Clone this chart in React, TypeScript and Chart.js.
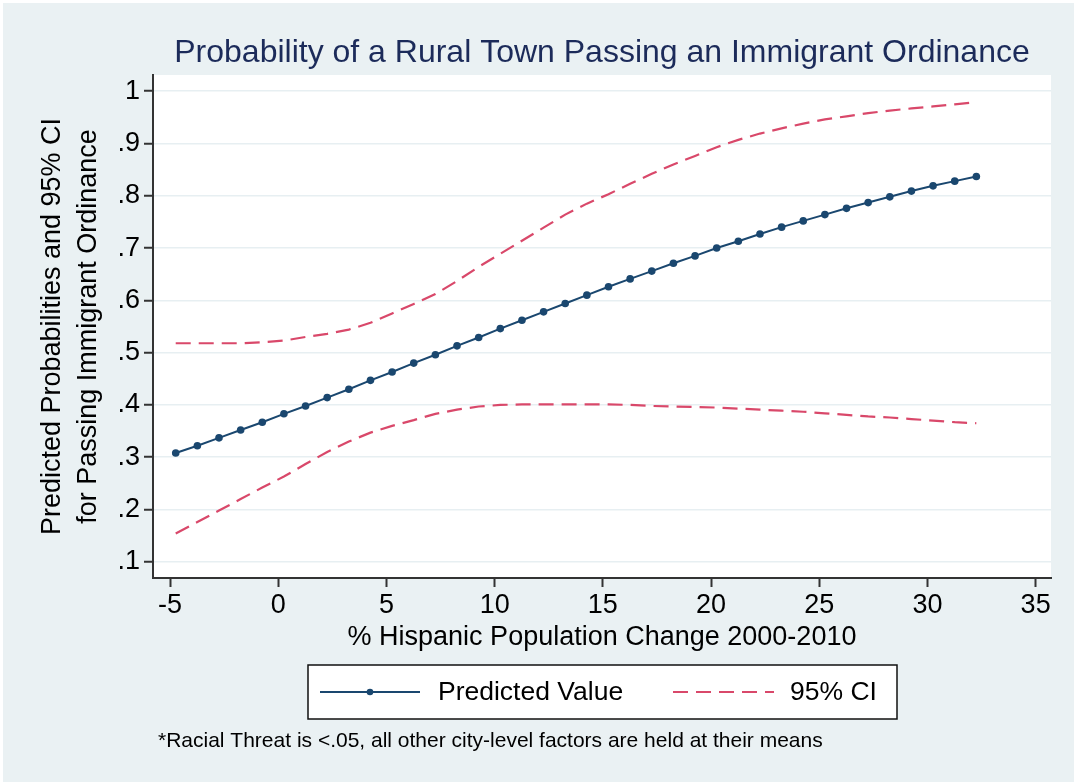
import React, { useEffect, useRef } from "react";
import { Chart, registerables } from "chart.js";

Chart.register(...registerables);

// % Hispanic population change 2000-2010 at which predictions were made
const hispanicChange = [
  -4.74, -3.74, -2.74, -1.74, -0.74, 0.26, 1.26, 2.26, 3.26, 4.26,
  5.26, 6.26, 7.26, 8.26, 9.26, 10.26, 11.26, 12.26, 13.26, 14.26,
  15.26, 16.26, 17.26, 18.26, 19.26, 20.26, 21.26, 22.26, 23.26, 24.26,
  25.26, 26.26, 27.26, 28.26, 29.26, 30.26, 31.26, 32.26,
];

// Predicted probability of passing an immigrant ordinance
const predictedValue = [
  0.308, 0.322, 0.337, 0.352, 0.367, 0.383, 0.398, 0.414, 0.430, 0.447,
  0.463, 0.480, 0.496, 0.513, 0.529, 0.546, 0.562, 0.578, 0.594, 0.610,
  0.626, 0.641, 0.656, 0.671, 0.685, 0.700, 0.713, 0.727, 0.740, 0.752,
  0.764, 0.776, 0.787, 0.798, 0.809, 0.819, 0.828, 0.837,
];

// Upper bound of the 95% confidence interval
const ciUpper = [
  0.518, 0.518, 0.518, 0.518, 0.520, 0.523, 0.530, 0.536, 0.544, 0.557,
  0.575, 0.593, 0.612, 0.637, 0.664, 0.689, 0.714, 0.739, 0.764, 0.785,
  0.803, 0.823, 0.842, 0.860, 0.876, 0.893, 0.907, 0.919, 0.929, 0.938,
  0.946, 0.952, 0.958, 0.963, 0.967, 0.971, 0.975, 0.979,
];

// Lower bound of the 95% confidence interval
const ciLower = [
  0.154, 0.176, 0.198, 0.220, 0.242, 0.263, 0.287, 0.310, 0.330, 0.347,
  0.360, 0.371, 0.383, 0.391, 0.397, 0.400, 0.401, 0.401, 0.401, 0.401,
  0.401, 0.400, 0.398, 0.397, 0.396, 0.395, 0.393, 0.391, 0.389, 0.387,
  0.384, 0.381, 0.378, 0.376, 0.373, 0.370, 0.367, 0.365,
];

const xTickValues = [-5, 0, 5, 10, 15, 20, 25, 30, 35];
const yTickValues = [0.1, 0.2, 0.3, 0.4, 0.5, 0.6, 0.7, 0.8, 0.9, 1];
const yTickLabels = [".1", ".2", ".3", ".4", ".5", ".6", ".7", ".8", ".9", "1"];

const chartTitle = "Probability of a Rural Town Passing an Immigrant Ordinance";
const xAxisTitle = "% Hispanic Population Change 2000-2010";
const yAxisTitle = ["Predicted Probabilities and 95% CI", "for Passing Immigrant Ordinance"];
const legendLabels = ["Predicted Value", "95% CI"];
const footnote = "*Racial Threat is <.05, all other city-level factors are held at their means";

const FONT = '"Liberation Sans", Arial, sans-serif';
const NAVY = "#1a476f";
const CI_RED = "#d9486a";
const PANEL_BG = "#eaf1f3";
const GRID = "#e7eff2";

const toPoints = (ys: number[]) => hispanicChange.map((x, i) => ({ x, y: ys[i] }));

const decorations = {
  id: "stataDecorations",
  beforeDraw(chart: any) {
    const { ctx, width, height, chartArea } = chart;
    ctx.save();
    ctx.fillStyle = "#ffffff";
    ctx.fillRect(0, 0, width, height);
    ctx.fillStyle = PANEL_BG;
    ctx.fillRect(3, 3, width - 3, height - 3);
    ctx.fillStyle = "#ffffff";
    ctx.fillRect(chartArea.left, chartArea.top, chartArea.right - chartArea.left, chartArea.bottom - chartArea.top);
    ctx.restore();
  },
  afterDraw(chart: any) {
    const { ctx, chartArea } = chart;
    const cx = (chartArea.left + chartArea.right) / 2;
    const cy = (chartArea.top + chartArea.bottom) / 2;
    ctx.save();

    // title
    ctx.fillStyle = "#1c2b5a";
    ctx.font = `32px ${FONT}`;
    ctx.textAlign = "center";
    ctx.textBaseline = "alphabetic";
    ctx.fillText(chartTitle, cx, 62);

    // x axis title
    ctx.fillStyle = "#000000";
    ctx.font = `27px ${FONT}`;
    ctx.fillText(xAxisTitle, cx, 645);

    // y axis title (two lines, rotated)
    ctx.save();
    ctx.translate(0, cy);
    ctx.rotate(-Math.PI / 2);
    ctx.font = `27px ${FONT}`;
    ctx.fillText(yAxisTitle[0], 0, 60);
    ctx.fillText(yAxisTitle[1], 0, 96);
    ctx.restore();

    // legend box
    const bx = 308, by = 665, bw = 589, bh = 54;
    ctx.fillStyle = "#ffffff";
    ctx.fillRect(bx, by, bw, bh);
    ctx.strokeStyle = "#111111";
    ctx.lineWidth = 1.5;
    ctx.strokeRect(bx, by, bw, bh);
    const ly = by + bh / 2;
    ctx.strokeStyle = NAVY;
    ctx.lineWidth = 2;
    ctx.beginPath();
    ctx.moveTo(320, ly);
    ctx.lineTo(420, ly);
    ctx.stroke();
    ctx.fillStyle = NAVY;
    ctx.beginPath();
    ctx.arc(370, ly, 3.3, 0, Math.PI * 2);
    ctx.fill();
    ctx.strokeStyle = CI_RED;
    ctx.setLineDash([15, 8]);
    ctx.beginPath();
    ctx.moveTo(673, ly);
    ctx.lineTo(774, ly);
    ctx.stroke();
    ctx.setLineDash([]);
    ctx.fillStyle = "#000000";
    ctx.font = `26.5px ${FONT}`;
    ctx.textAlign = "left";
    ctx.textBaseline = "middle";
    ctx.fillText(legendLabels[0], 438, ly + 1);
    ctx.fillText(legendLabels[1], 790, ly + 1);

    // footnote
    ctx.font = `21px ${FONT}`;
    ctx.fillText(footnote, 158, 741);
    ctx.restore();
  },
};

export default function App() {
  const canvasRef = useRef<HTMLCanvasElement | null>(null);

  useEffect(() => {
    document.body.style.margin = "0";
    const canvas = canvasRef.current;
    if (!canvas) return;
    const tickFont = { family: FONT, size: 27 };
    const chart = new Chart(canvas, {
      type: "line",
      data: {
        datasets: [
          {
            label: legendLabels[1],
            data: toPoints(ciUpper),
            borderColor: CI_RED,
            borderWidth: 2.2,
            borderDash: [15, 8],
            pointRadius: 0,
            fill: false,
          },
          {
            label: legendLabels[1],
            data: toPoints(ciLower),
            borderColor: CI_RED,
            borderWidth: 2.2,
            borderDash: [15, 8],
            pointRadius: 0,
            fill: false,
          },
          {
            label: legendLabels[0],
            data: toPoints(predictedValue),
            borderColor: NAVY,
            borderWidth: 2,
            pointRadius: 3.8,
            pointStyle: "circle",
            pointBackgroundColor: NAVY,
            pointBorderWidth: 0,
            fill: false,
          },
        ],
      },
      options: {
        animation: false,
        responsive: false,
        maintainAspectRatio: false,
        events: [],
        layout: { padding: { left: 0, right: 23, top: 75, bottom: 164 } },
        plugins: {
          legend: { display: false },
          title: { display: false },
          tooltip: { enabled: false },
        },
        scales: {
          x: {
            type: "linear",
            min: -5.79,
            max: 35.71,
            afterBuildTicks: (s: any) => {
              s.ticks = xTickValues.map((v) => ({ value: v }));
            },
            afterFit: (s: any) => {
              s.height = 40;
            },
            grid: {
              drawOnChartArea: false,
              tickLength: 9,
              tickColor: "#333333",
              tickWidth: 2,
            },
            border: { color: "#333333", width: 2 },
            ticks: {
              font: tickFont,
              color: "#000000",
              padding: 2,
              maxRotation: 0,
              autoSkip: false,
              callback: (v: any) => String(v),
            },
          },
          y: {
            type: "linear",
            min: 0.069,
            max: 1.031,
            afterBuildTicks: (s: any) => {
              s.ticks = yTickValues.map((v) => ({ value: v }));
            },
            afterFit: (s: any) => {
              s.width = 153;
            },
            grid: {
              color: GRID,
              lineWidth: 1.5,
              tickLength: 9,
              tickColor: "#333333",
              tickWidth: 2,
            },
            border: { color: "#333333", width: 2 },
            ticks: {
              font: tickFont,
              color: "#000000",
              padding: 4,
              autoSkip: false,
              callback: (v: any) => {
                const i = yTickValues.findIndex((t) => Math.abs(t - v) < 1e-6);
                return i >= 0 ? yTickLabels[i] : "";
              },
            },
          },
        },
      },
      plugins: [decorations],
    });
    return () => chart.destroy();
  }, []);

  return (
    <div style={{ position: "fixed", left: 0, top: 0, width: 1074, height: 782 }}>
      <canvas ref={canvasRef} width={1074} height={782} style={{ display: "block" }} />
    </div>
  );
}
